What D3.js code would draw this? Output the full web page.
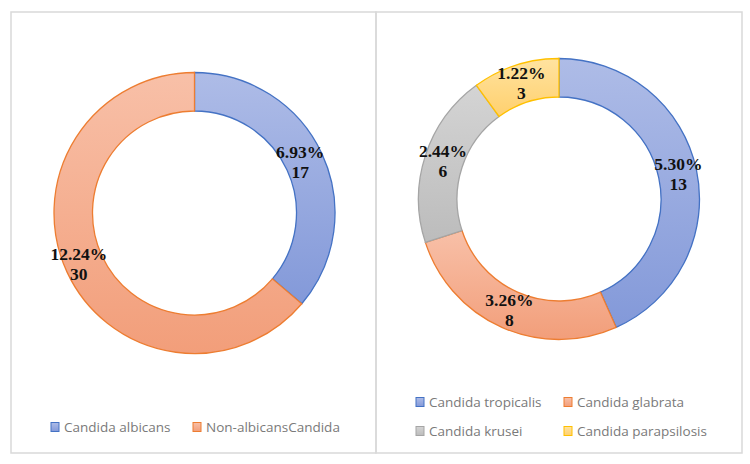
<!DOCTYPE html>
<html><head><meta charset="utf-8">
<script src="https://cdn.jsdelivr.net/npm/d3@7"></script>
<style>body{margin:0;background:#fff}svg{display:block}</style>
</head><body>
<svg id="c" width="750" height="464"></svg>
<script>
const leftCategories = ["Candida albicans", "Non-albicansCandida"];
const leftValues = [17, 30];
const leftPercents = ["6.93%", "12.24%"];
const rightCategories = ["Candida tropicalis", "Candida glabrata", "Candida krusei", "Candida parapsilosis"];
const rightValues = [13, 8, 6, 3];
const rightPercents = ["5.30%", "3.26%", "2.44%", "1.22%"];

const fills = [["#aebce7","#8399d9"],["#f8c0a8","#f29e7a"],["#d4d4d4","#bcbcbc"],["#ffe3a0","#ffd06e"]];
const strokes = ["#4472c4","#ed7d31","#a5a5a5","#ffc000"];

const svg = d3.select("#c");
const defs = svg.append("defs");
fills.forEach((f,i)=>{
  const g = defs.append("linearGradient").attr("id","g"+i).attr("x1",0).attr("y1",0).attr("x2",0).attr("y2",1);
  g.append("stop").attr("offset","0%").attr("stop-color",f[0]);
  g.append("stop").attr("offset","100%").attr("stop-color",f[1]);
});

// panels
svg.append("rect").attr("x",11).attr("y",12).attr("width",365).attr("height",441)
  .attr("fill","none").attr("stroke","#d9d9d9").attr("stroke-width",1.5);
svg.append("rect").attr("x",376).attr("y",12).attr("width",366).attr("height",441)
  .attr("fill","none").attr("stroke","#d9d9d9").attr("stroke-width",1.5);

function donut(cx, cy, values, percents, colorIdx, labelDx){
  const pie = d3.pie().sort(null).value(d=>d)(values);
  const arc = d3.arc().innerRadius(102).outerRadius(140.5);
  const g = svg.append("g").attr("transform",`translate(${cx},${cy})`);
  pie.forEach((p,i)=>{
    g.append("path").attr("d",arc(p))
      .attr("fill",`url(#g${colorIdx[i]})`)
      .attr("stroke",strokes[colorIdx[i]]).attr("stroke-width",1.3);
  });
  const lr = 122;
  pie.forEach((p,i)=>{
    const a = (p.startAngle+p.endAngle)/2;
    const x = lr*Math.sin(a) + labelDx, y = -lr*Math.cos(a);
    const t = g.append("text").attr("text-anchor","middle")
      .attr("font-family","'Liberation Serif','Times New Roman',serif")
      .attr("font-weight","bold").attr("font-size",17.5).attr("fill","#111");
    t.append("tspan").attr("x",x).attr("y",y-4).text(percents[i]);
    t.append("tspan").attr("x",x).attr("y",y+16).text(values[i]);
  });
}
donut(194.5, 213, leftValues, leftPercents, [0,1], -5);
donut(559, 199, rightValues, rightPercents, [0,1,2,3], 0);

function legendItem(x, y, label, ci){
  svg.append("rect").attr("x",x).attr("y",y-4.5).attr("width",8).attr("height",9)
    .attr("fill",`url(#g${ci})`).attr("stroke",strokes[ci]).attr("stroke-width",1);
  svg.append("text").attr("x",x+13).attr("y",y+5)
    .attr("font-family","'Open Sans','Liberation Sans',sans-serif").attr("font-size",13.5)
    .attr("fill","#7a7a7a").text(label);
}
const leftLegX = [51, 193];
leftCategories.forEach((c,i)=>legendItem(leftLegX[i], 427, c, i));
const rightLegPos = [[416,402],[564,402],[416,431],[564,431]];
rightCategories.forEach((c,i)=>legendItem(rightLegPos[i][0], rightLegPos[i][1], c, i));
</script>
</body></html>
